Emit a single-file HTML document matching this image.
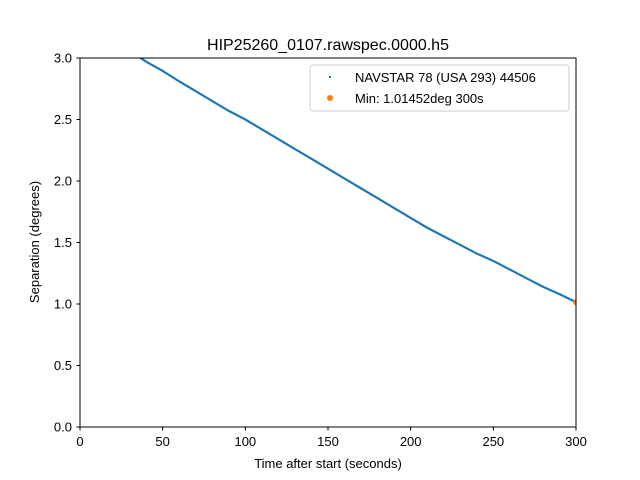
<!DOCTYPE html>
<html><head><meta charset="utf-8"><style>body{margin:0;background:#fff}svg{display:block;font-family:"Liberation Sans","DejaVu Sans",sans-serif}</style></head>
<body>
<svg id="chart" width="640" height="480">
<defs><clipPath id="clip"><rect x="80" y="58" width="496" height="369"/></clipPath></defs>
<rect x="0" y="0" width="640" height="480" fill="#fff"/>
<text x="328" y="50" text-anchor="middle" font-size="16">HIP25260_0107.rawspec.0000.h5</text>
<g id="ticks"></g>
<g id="plot" clip-path="url(#clip)"></g>
<rect x="80" y="58" width="496" height="369" fill="none" stroke="#000" stroke-width="1"/>
<text x="328" y="468" text-anchor="middle" font-size="13">Time after start (seconds)</text>
<text transform="translate(39,242) rotate(-90)" text-anchor="middle" font-size="13">Separation (degrees)</text>
<g>
<rect x="310" y="65" width="259" height="46" rx="3" fill="#fff" stroke="#ccc"/>
<rect x="329" y="76" width="2" height="2" fill="#1f77b4"/>
<text x="355" y="82" font-size="13">NAVSTAR 78 (USA 293) 44506</text>
<circle cx="330" cy="98" r="3" fill="#ff7f0e"/>
<text x="355" y="103" font-size="13">Min: 1.01452deg 300s</text>
</g>
</svg>
<script>
const times=[0,10,20,30,40,50,60,70,80,90,100,110,120,130,140,150,160,170,180,190,200,210,220,230,240,250,260,270,280,290,300];
const seps=[3.36,3.26,3.16,3.06,2.97,2.895,2.81,2.73,2.65,2.57,2.50,2.42,2.34,2.26,2.18,2.10,2.02,1.94,1.86,1.78,1.70,1.62,1.55,1.48,1.41,1.35,1.28,1.21,1.14,1.08,1.015];
const xTicks=[0,50,100,150,200,250,300];
const yTicks=[0.0,0.5,1.0,1.5,2.0,2.5,3.0];
const minPoint=[300,1.01452];
const NS="http://www.w3.org/2000/svg";
const X=v=>80+v*496/300, Y=v=>427-v*369/3;
const tg=document.getElementById('ticks'), pg=document.getElementById('plot');
function mk(t,a,p){const e=document.createElementNS(NS,t);for(const k in a)e.setAttribute(k,a[k]);p.appendChild(e);return e;}
xTicks.forEach(v=>{
 const l=mk('line',{x1:X(v),x2:X(v),y1:427,y2:430.5,stroke:'#000'},tg);
 
 
 const t=mk('text',{x:X(v),y:446,'text-anchor':'middle','font-size':13},tg);t.textContent=v;
 
 
});
yTicks.forEach(v=>{
 const l=mk('line',{x1:76.5,x2:80,y1:Y(v),y2:Y(v),stroke:'#000'},tg);
 
 
 const t=mk('text',{x:72,y:Y(v)+4.5,'text-anchor':'end','font-size':13},tg);t.textContent=v.toFixed(1);
 
 
});
const pl=mk('polyline',{points:times.map((t,i)=>X(t)+','+Y(seps[i])).join(' '),fill:'none',stroke:'#1f77b4','stroke-width':2.2},pg);


const c=mk('circle',{cx:X(minPoint[0]),cy:Y(minPoint[1]),r:3,fill:'#ff7f0e'},pg);


</script>
</body></html>
